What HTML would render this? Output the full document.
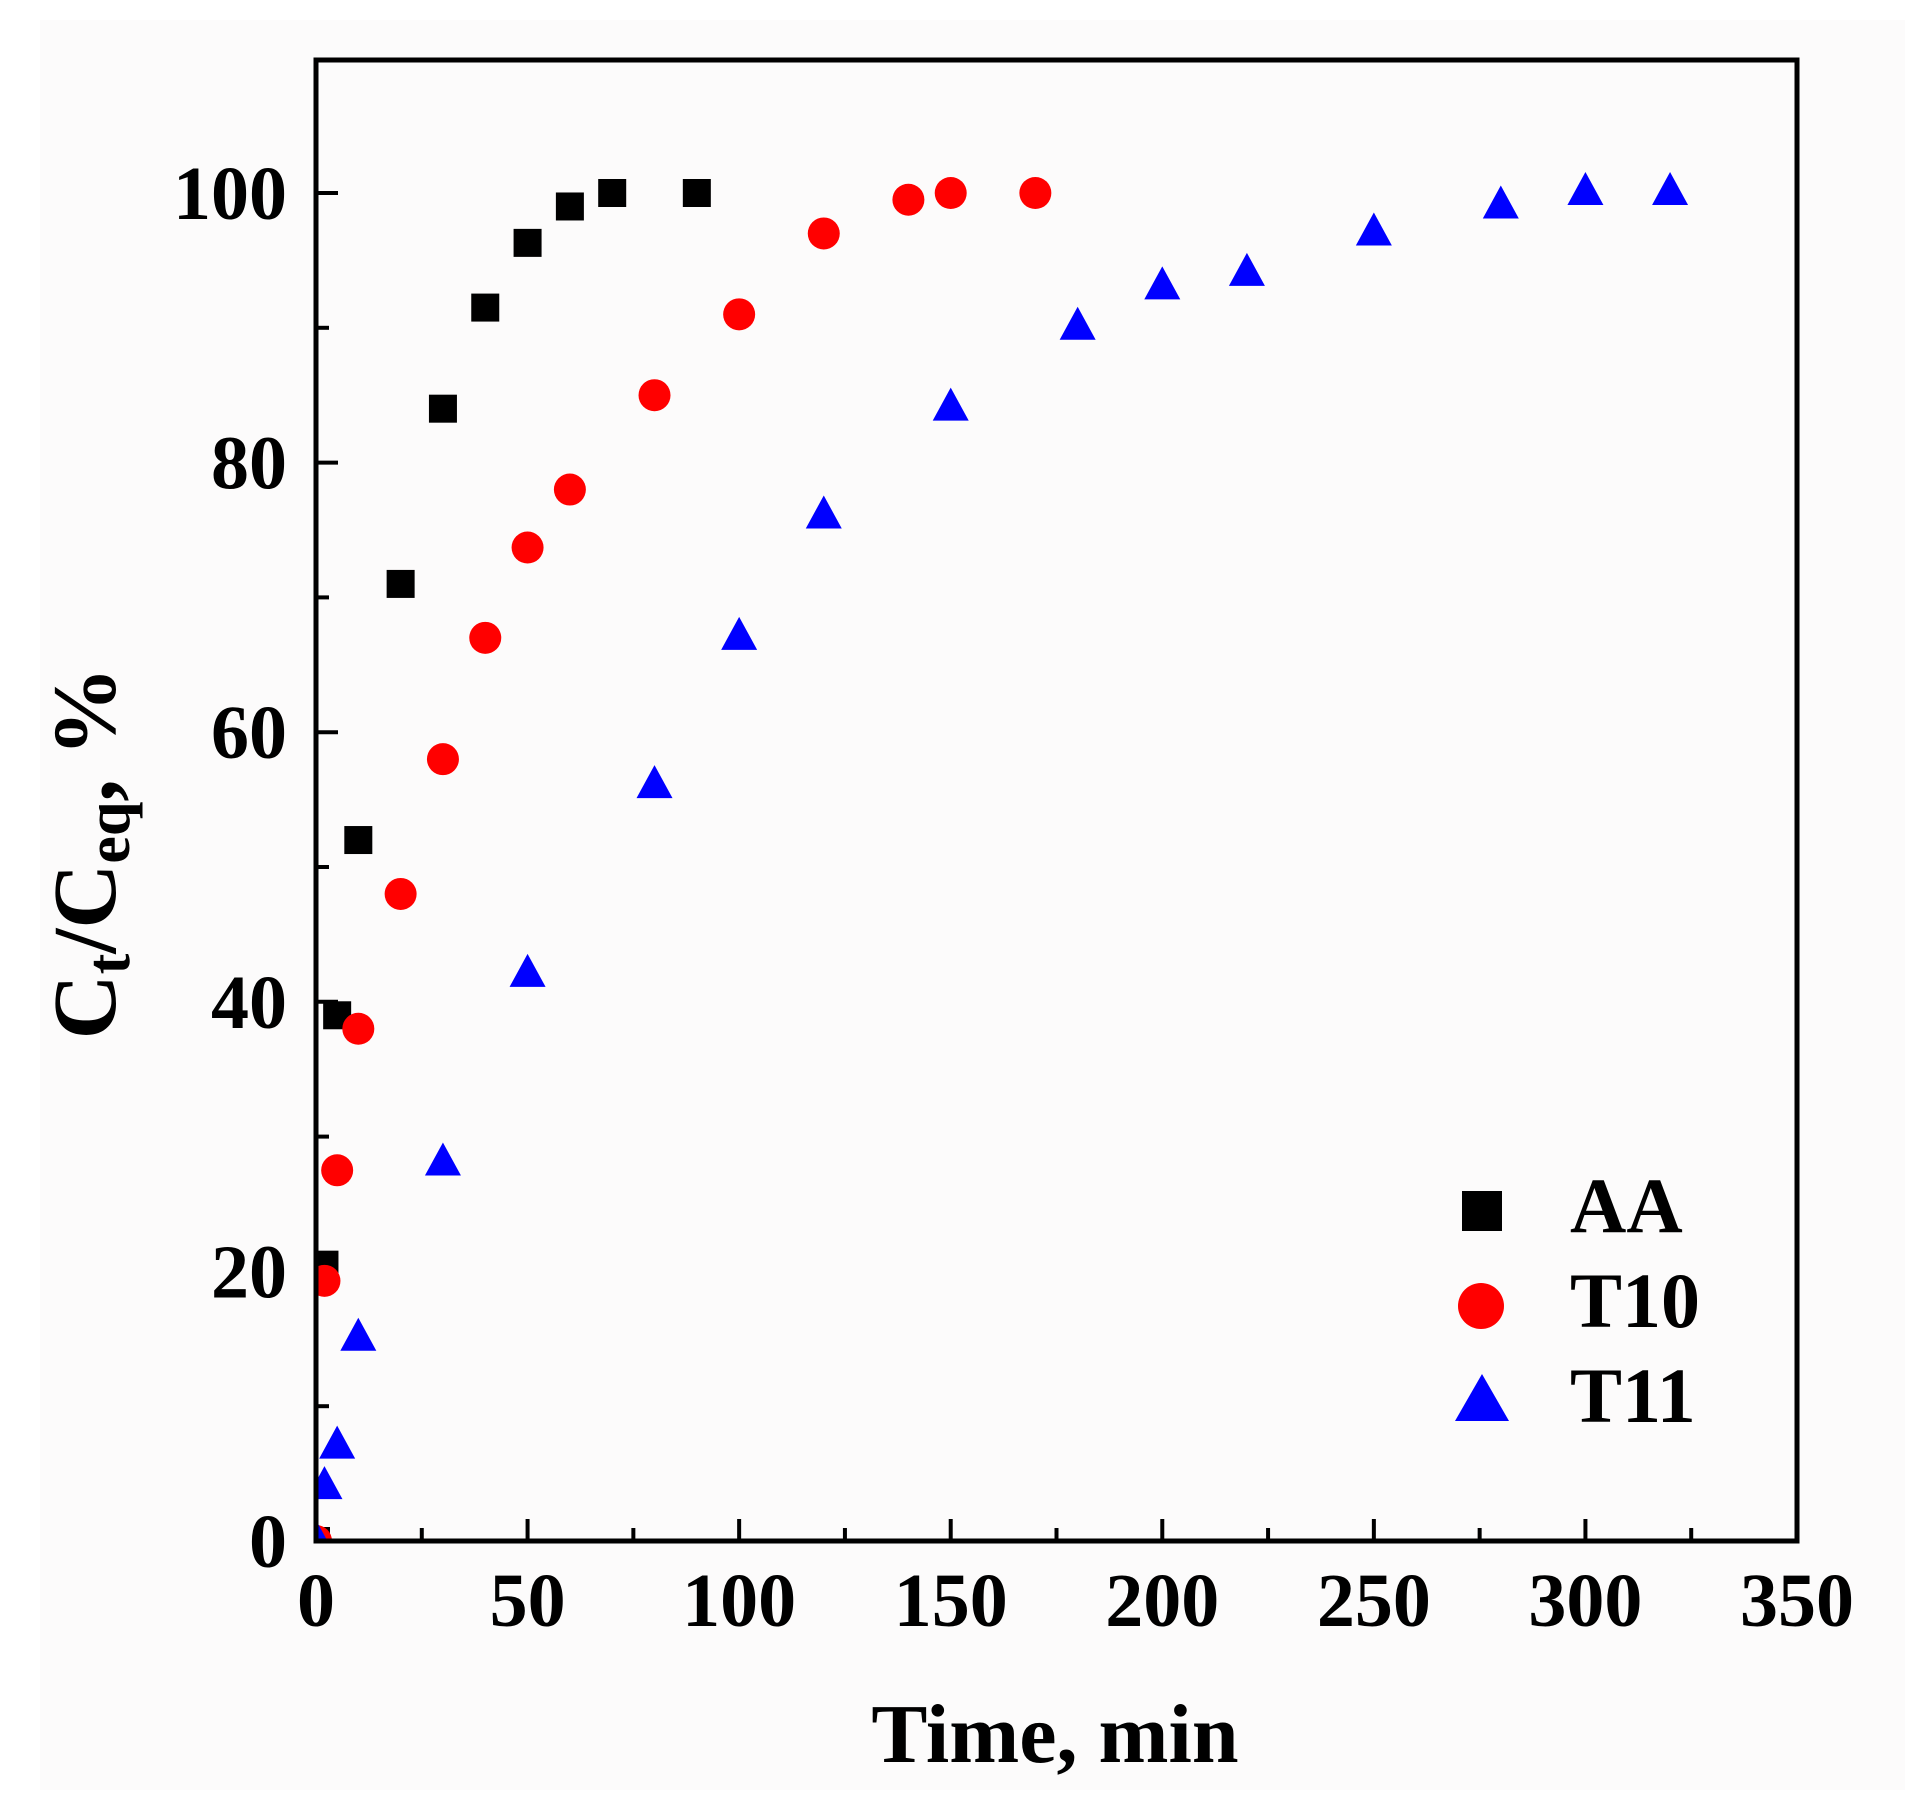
<!DOCTYPE html>
<html><head><meta charset="utf-8"><style>
html,body{margin:0;padding:0;background:#fff;}
svg{display:block;}
text{font-family:"Liberation Serif",serif;font-weight:bold;fill:#000;}
</style></head><body>
<svg width="1905" height="1808" viewBox="0 0 1905 1808" xmlns="http://www.w3.org/2000/svg">
<rect x="0" y="0" width="1905" height="1808" fill="#fff"/>
<rect x="40" y="20" width="1865" height="1770" fill="#fcfbfb"/>
<defs><clipPath id="c"><rect x="316" y="60" width="1481" height="1481"/></clipPath></defs>
<g id="ticks" stroke="#000" stroke-width="4"></g>
<g id="pts" clip-path="url(#c)"></g>
<rect x="316" y="60" width="1481" height="1481" fill="none" stroke="#000" stroke-width="5"/>
<g id="labels" font-size="76"></g>
<text x="1055" y="1762" font-size="84" text-anchor="middle">Time, min</text>
<text transform="translate(115,853) rotate(-90)" font-size="90" text-anchor="middle">C<tspan font-size="62" dy="14">t</tspan><tspan dy="-14">/C</tspan><tspan font-size="62" dy="14">eq</tspan><tspan dy="-14">, %</tspan></text>
<rect x="1462" y="1191" width="40" height="40" fill="#000"/>
<circle cx="1481" cy="1306" r="23" fill="#ff0000"/>
<polygon points="1455,1421 1509,1421 1482,1374" fill="#0000ff"/>
<text x="1570" y="1232" font-size="78">AA</text>
<text x="1570" y="1327" font-size="78">T10</text>
<text x="1570" y="1422" font-size="78">T11</text>
</svg>
<script>
const X=v=>316+v*1481/350, Y=v=>1541-v*13.48;
const ns="http://www.w3.org/2000/svg";
const t=document.getElementById('ticks'),p=document.getElementById('pts'),l=document.getElementById('labels');
function el(par,n,a,txt){const e=document.createElementNS(ns,n);for(const k in a)e.setAttribute(k,a[k]);if(txt!==undefined)e.textContent=txt;par.appendChild(e);return e;}
for(let v=25;v<350;v+=25){const x=X(v),L=v%50?13:22;el(t,'line',{x1:x,x2:x,y1:1541,y2:1541-L});}
for(let v=10;v<110;v+=10){const y=Y(v),L=v%20?13:22;el(t,'line',{x1:316,x2:316+L,y1:y,y2:y});}
for(let v=0;v<=350;v+=50)el(l,'text',{x:X(v),y:1626,'text-anchor':'middle'},v);
for(let v=0;v<=100;v+=20)el(l,'text',{x:287,y:Y(v)+26,'text-anchor':'end'},v);
const AA=[[0,0],[2,20.5],[5,39],[10,52],[20,71],[30,84],[40,91.5],[50,96.3],[60,99],[70,100],[90,100]];
const T10=[[0,0],[2,19.3],[5,27.5],[10,38],[20,48],[30,58],[40,67],[50,73.7],[60,78],[80,85],[100,91],[120,97],[140,99.5],[150,100],[170,100]];
const T11=[[0,0],[2,4],[5,7],[10,15],[30,28],[50,42],[80,56],[100,67],[120,76],[150,84],[180,90],[200,93],[220,94],[250,97],[280,99],[300,100],[320,100]];
AA.forEach(([a,b])=>el(p,'rect',{x:X(a)-14,y:Y(b)-14,width:28,height:28,fill:'#000'}));
T10.forEach(([a,b])=>el(p,'circle',{cx:X(a),cy:Y(b),r:16,fill:'#ff0000'}));
T11.forEach(([a,b])=>{const x=X(a),y=Y(b);el(p,'polygon',{points:`${x-18},${y+12} ${x+18},${y+12} ${x},${y-21}`,fill:'#0000ff'});});
</script>
</body></html>
